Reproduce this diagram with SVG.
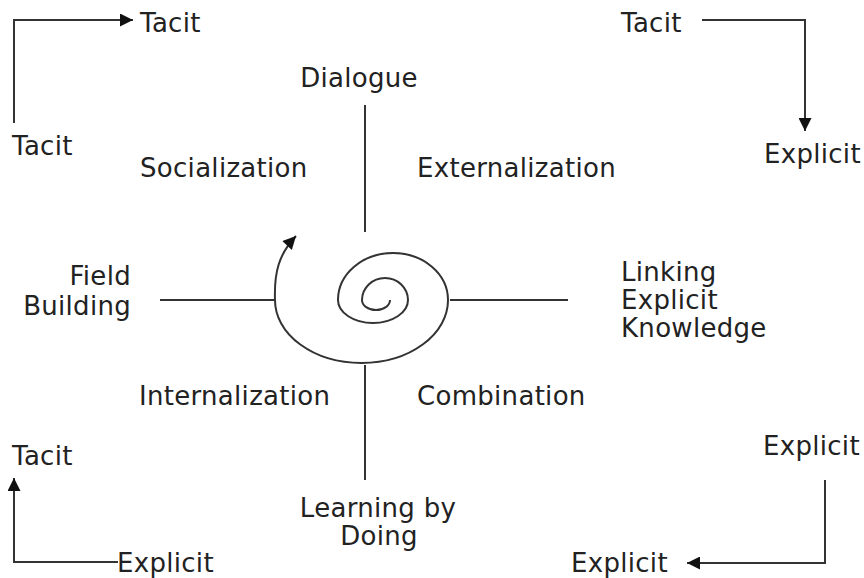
<svg xmlns="http://www.w3.org/2000/svg" width="864" height="578" viewBox="0 0 864 578">
<style>
text{font-family:"DejaVu Sans","Liberation Sans",sans-serif;font-size:26px;letter-spacing:0.3px;fill:#222}
.ln{stroke:#333;stroke-width:2;fill:none}
</style>
<defs>
<marker id="ah" viewBox="0 0 10 10" refX="10" refY="5" markerWidth="14" markerHeight="13" markerUnits="userSpaceOnUse" orient="auto"><path d="M0,0 L10,5 L0,10 z" fill="#111"/></marker>
</defs>
<rect width="864" height="578" fill="#fff"/>
<g id="connectors">
<path class="ln" d="M14,123 V20 H133" marker-end="url(#ah)"/>
<path class="ln" d="M702,20 H805 V131" marker-end="url(#ah)"/>
<path class="ln" d="M118,562 H14 V478" marker-end="url(#ah)"/>
<path class="ln" d="M825,480 V563 H687" marker-end="url(#ah)"/>
<line class="ln" x1="365" y1="105" x2="365" y2="232"/>
<line class="ln" x1="365" y1="365" x2="365" y2="480"/>
<line class="ln" x1="160" y1="300" x2="275" y2="300"/>
<line class="ln" x1="450" y1="300" x2="568" y2="300"/>
<path id="spiral" class="ln" d="M390,300 A14,10 0 0 1 362,300 A23,22 0 0 1 408,300 A35,23 0 0 1 338,300 A55,47 0 0 1 448,300 A86.5,63 0 0 1 275,300 C274,272 279,254 296,236" marker-end="url(#ah)"/>
</g>
<g id="tl-tacit-top"><text x="140" y="32">Tacit</text></g>
<g id="tl-tacit-bottom"><text x="12" y="155">Tacit</text></g>
<g id="tr-tacit"><text x="621" y="32">Tacit</text></g>
<g id="tr-explicit"><text x="764" y="163">Explicit</text></g>
<g id="bl-tacit"><text x="12" y="465">Tacit</text></g>
<g id="bl-explicit"><text x="117" y="572">Explicit</text></g>
<g id="br-explicit-top"><text x="763" y="455">Explicit</text></g>
<g id="br-explicit-bottom"><text x="571" y="572">Explicit</text></g>
<g id="dialogue"><text x="359" y="87" text-anchor="middle">Dialogue</text></g>
<g id="socialization"><text x="140" y="177">Socialization</text></g>
<g id="externalization"><text x="417" y="177">Externalization</text></g>
<g id="field-building"><text x="131" y="285" text-anchor="end">Field</text><text x="131" y="315" text-anchor="end">Building</text></g>
<g id="linking"><text x="621" y="281">Linking</text><text x="621" y="309">Explicit</text><text x="621" y="337">Knowledge</text></g>
<g id="internalization"><text x="139" y="405">Internalization</text></g>
<g id="combination"><text x="417" y="405">Combination</text></g>
<g id="learning"><text x="378" y="517" text-anchor="middle">Learning by</text><text x="379" y="545" text-anchor="middle">Doing</text></g>
</svg>
